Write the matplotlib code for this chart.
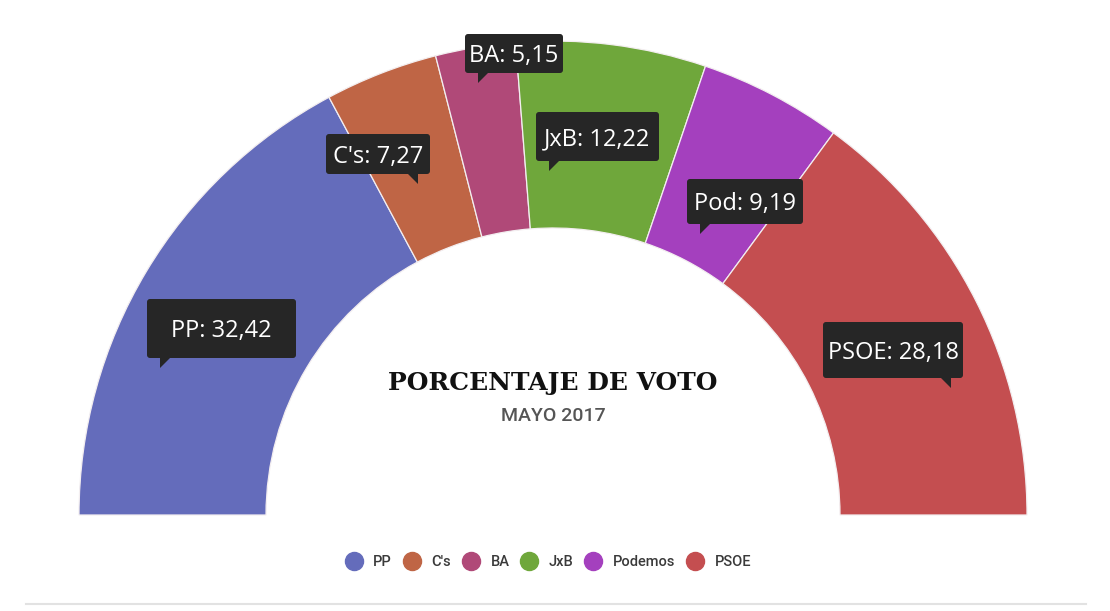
import matplotlib.pyplot as plt
from matplotlib.patches import FancyBboxPatch, Polygon
from matplotlib.lines import Line2D

# ---------------- data ----------------
parties = ["PP", "C's", "BA", "JxB", "Podemos", "PSOE"]
short_names = ["PP", "C's", "BA", "JxB", "Pod", "PSOE"]
vote_pct = [32.42, 7.27, 5.15, 12.22, 9.19, 28.18]
colors = ["#646cbb", "#bf6545", "#b04978", "#6fa73b", "#a440be", "#c44e50"]

# tooltip boxes in pixels (left, top, right, bottom, pointer side)
tip_boxes = [
    (147, 299, 296, 358, "left"),
    (326, 134, 430, 174, "right"),
    (465, 34, 563, 73, "left"),
    (536, 112, 659, 161, "left"),
    (687, 179, 803, 224, "left"),
    (823, 322, 963, 378, "right"),
]

W, H = 1110, 611


def py(y):
    # pixel row (from top) -> data y
    return H - y


fig = plt.figure(figsize=(W / 100, H / 100), dpi=100)
ax = fig.add_axes([0, 0, 1, 1])

# half donut: add an invisible wedge for the lower half
wedges, _ = ax.pie(vote_pct + [sum(vote_pct)],
                   colors=colors + ["none"],
                   startangle=180, counterclock=False,
                   radius=474, center=(553, py(515)),
                   wedgeprops=dict(width=187, edgecolor="#f3eef0",
                                   linewidth=0.9))
wedges[-1].set_visible(False)

ax.set_xlim(0, W)
ax.set_ylim(0, H)
ax.set_aspect("equal")
ax.axis("off")

# tooltips
for name, val, (l, t, r, b, side) in zip(short_names, vote_pct, tip_boxes):
    box = FancyBboxPatch((l, py(b)), r - l, b - t,
                         boxstyle="round,pad=0,rounding_size=3",
                         fc="#262626", ec="none", zorder=5)
    ax.add_patch(box)
    if side == "left":
        tip_x = l + 13
        pts = [(tip_x, py(b - 1)), (tip_x + 11, py(b - 1)), (tip_x, py(b + 10))]
    else:
        tip_x = r - 12
        pts = [(tip_x, py(b - 1)), (tip_x - 11, py(b - 1)), (tip_x, py(b + 10))]
    ax.add_patch(Polygon(pts, closed=True, fc="#262626", ec="none", zorder=5))
    ax.text((l + r) / 2, py((t + b) / 2 + 8.5),
            f"{name}: {val:.2f}".replace(".", ","),
            family="Open Sans", size=17, color="white",
            ha="center", va="baseline", zorder=6)

# center titles
ax.text(553, py(390), "PORCENTAJE DE VOTO", family="DejaVu Serif",
        weight="bold", size=18, color="#111111", ha="center", va="baseline")
ax.text(553, py(421), "MAYO 2017", family="Roboto", weight="medium",
        size=14, color="#555555", ha="center", va="baseline")

# legend
handles = [Line2D([], [], marker="o", ls="", markersize=13,
                  markerfacecolor=c, markeredgecolor=c) for c in colors]
fig.legend(handles, parties, loc="center",
           bbox_to_anchor=(548 / W, 1 - 562 / H), ncol=6, frameon=False,
           prop=dict(family="Roboto", size=10.5, weight="medium"),
           labelcolor="#3a3a3a", handlelength=1.2, handletextpad=0.75,
           columnspacing=0.75)

# bottom separator
ax.plot([26, 1086], [py(604), py(604)], color="#e2e2e2", lw=1.5)

plt.savefig("out.png", dpi=100)
